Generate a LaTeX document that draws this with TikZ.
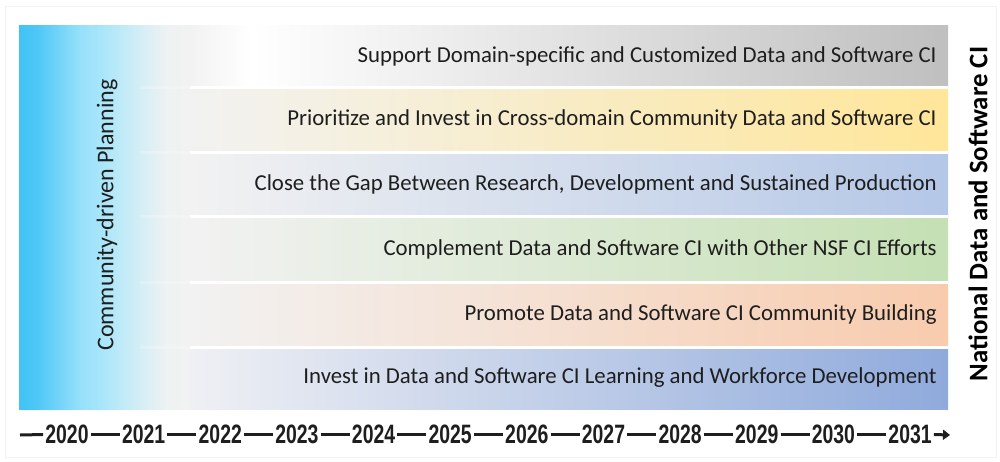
\documentclass[tikz,border=0pt]{standalone}
\usepackage{fontspec}
\setmainfont{Carlito}
\newfontfamily\yearfont{Liberation Sans}[FakeStretch=0.73]
\usetikzlibrary{arrows.meta}
\definecolor{rowgrayR}{RGB}{191,191,191}
\definecolor{rowyelR}{RGB}{255,230,153}
\definecolor{rowblueR}{RGB}{180,199,231}
\definecolor{rowgreenR}{RGB}{197,224,180}
\definecolor{roworangeR}{RGB}{248,203,173}
\definecolor{rowdblueR}{RGB}{143,170,220}
\definecolor{rowL}{RGB}{242,242,242}
\definecolor{rowLb}{RGB}{239,240,244}
\definecolor{txt}{RGB}{30,30,30}
\pgfdeclarehorizontalshading{planshade}{100bp}{rgb(0bp)=(0.255,0.765,0.961); rgb(25bp)=(0.255,0.765,0.961); rgb(30bp)=(0.30,0.78,0.965); rgb(43bp)=(0.59,0.88,0.98); rgb(49bp)=(0.66,0.90,0.98); rgb(57.5bp)=(0.79,0.925,0.97); rgb(68bp)=(0.935,0.948,0.95); rgb(75bp)=(0.949,0.949,0.949); rgb(100bp)=(0.949,0.949,0.949)}
\pgfdeclarehorizontalshading{toprowshade}{100bp}{rgb(0bp)=(0.949,0.949,0.949); rgb(25bp)=(0.949,0.949,0.949); rgb(29bp)=(1,1,1); rgb(75bp)=(0.75,0.75,0.75); rgb(100bp)=(0.75,0.75,0.75)}
\begin{document}
\begin{tikzpicture}[x=0.5pt,y=-0.5pt,
  rowtext/.style={anchor=east, text=txt, font=\fontsize{11.4}{13}\selectfont, inner sep=0pt},
  yearlabel/.style={font=\yearfont\bfseries\fontsize{13.3}{15}\selectfont, inner sep=0.9pt, text=txt},
  axisdash/.style={line width=1.5pt, draw=txt},
  sepline/.style={draw=white, line width=1.5pt}]
\useasboundingbox (0,0) rectangle (1000,461);
\draw[black!5, line width=0.5pt] (5,6) rectangle (996,457);
% left planning band
\shade[shading=planshade] (19,25) rectangle (190,409);
% rows
\shade[shading=toprowshade] (190,25) rectangle (948,87);
\shade[left color=rowL, right color=rowyelR] (190,87) rectangle (948,152);
\shade[left color=rowL, right color=rowblueR] (190,152) rectangle (948,216);
\shade[left color=rowL, right color=rowgreenR] (190,216) rectangle (948,282);
\shade[left color=rowL, right color=roworangeR] (190,282) rectangle (948,347);
\shade[left color=rowLb, right color=rowdblueR] (190,347) rectangle (948,409);
\foreach \yy in {87,152,216,282,347}{
  \draw[sepline] (190,\yy) -- (948,\yy);
  \draw[sepline, opacity=0.22] (140,\yy) -- (190,\yy);
}
% row texts
\node[rowtext] (r1) at (937,56) {Support Domain-specific and Customized Data and Software CI};
\node[rowtext] (r2) at (937,119.5) {Prioritize and Invest in Cross-domain Community Data and Software CI};
\node[rowtext] (r3) at (937,184) {Close the Gap Between Research, Development and Sustained Production};
\node[rowtext] (r4) at (937,249) {Complement Data and Software CI with Other NSF CI Efforts};
\node[rowtext] (r5) at (937,314.5) {Promote Data and Software CI Community Building};
\node[rowtext] (r6) at (937,378) {Invest in Data and Software CI Learning and Workforce Development};
% side labels
\node[rotate=90, text=txt, font=\fontsize{12}{14}\selectfont, inner sep=0pt] (plan) at (107,215) {Community-driven Planning};
\node[rotate=90, text=black, font=\bfseries\fontsize{13.4}{15}\selectfont, inner sep=0pt] (ncds) at (978,214) {National Data and Software CI};
% year axis
\foreach \yr [count=\i from 0] in {2020,2021,2022,2023,2024,2025,2026,2027,2028,2029,2030,2031}
  \node[yearlabel] (y\i) at ({67+76.64*\i},434.5) {\yr};
\coordinate (axstart) at (20,435);
\coordinate (axend) at (950,435);
\draw[axisdash] (axstart) -- (y0.west);
\foreach \i [evaluate=\i as \j using int(\i+1)] in {0,...,10}
  \draw[axisdash] (y\i.east) -- (y\j.west);
\draw[axisdash, -{Triangle[length=3.5pt,width=5pt]}] (y11.east) -- (axend);
\end{tikzpicture}
\end{document}
